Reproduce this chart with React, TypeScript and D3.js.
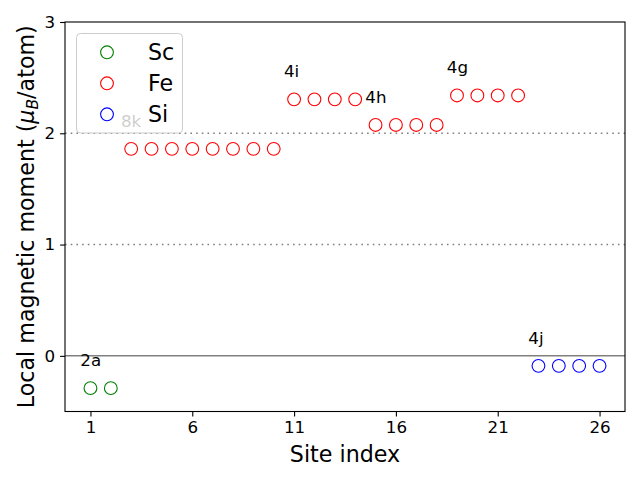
import React, { useEffect, useRef } from 'react'
import * as d3 from 'd3'

const scSites = [1, 2]
const scValues = [-0.29, -0.29]
const feSites = [3, 4, 5, 6, 7, 8, 9, 10, 11, 12, 13, 14, 15, 16, 17, 18, 19, 20, 21, 22]
const feValues = [1.86, 1.86, 1.86, 1.86, 1.86, 1.86, 1.86, 1.86,
  2.305, 2.305, 2.305, 2.305, 2.075, 2.075, 2.075, 2.075, 2.34, 2.34, 2.34, 2.34]
const siSites = [23, 24, 25, 26]
const siValues = [-0.09, -0.09, -0.09, -0.09]

const labels = ['2a', '8k', '4i', '4h', '4g', '4j']
const labelSites = [1, 3, 11, 15, 19, 23]
const labelValues = [-0.29, 1.86, 2.305, 2.075, 2.34, -0.09]

const xTicks = [1, 6, 11, 16, 21, 26]
const yTicks = [0, 1, 2, 3]

function drawChart(el: SVGSVGElement) {
  const svg = d3.select(el)
  svg.selectAll('*').remove()
  const left = 65, right = 625, top = 22, bottom = 411.5
  const x = d3.scaleLinear().domain([-0.25, 27.25]).range([left, right])
  const y = d3.scaleLinear().domain([-0.5, 3]).range([bottom, top])
  const font = 'DejaVu Sans, sans-serif'

  svg.append('rect').attr('width', 640).attr('height', 480).attr('fill', 'white')

  // reference lines
  svg.append('line').attr('x1', left).attr('x2', right).attr('y1', y(0)).attr('y2', y(0))
    .attr('stroke', 'gray').attr('stroke-width', 1.5)
  ;[1, 2].forEach(v => {
    svg.append('line').attr('x1', left).attr('x2', right).attr('y1', y(v)).attr('y2', y(v))
      .attr('stroke', 'gray').attr('stroke-width', 1.6).attr('stroke-dasharray', '1.6,4.1')
  })

  const series = [
    { sites: scSites, values: scValues, color: 'green', name: 'Sc' },
    { sites: feSites, values: feValues, color: 'red', name: 'Fe' },
    { sites: siSites, values: siValues, color: 'blue', name: 'Si' },
  ]
  series.forEach(s => {
    svg.append('g').selectAll('circle').data(s.sites).enter().append('circle')
      .attr('cx', d => x(d))
      .attr('cy', (d, i) => y(s.values[i]))
      .attr('r', 6.4)
      .attr('fill', 'none')
      .attr('stroke', s.color)
      .attr('stroke-width', 1.1)
  })

  labels.forEach((t, i) => {
    svg.append('text').attr('x', x(labelSites[i] - 0.5)).attr('y', y(labelValues[i] + 0.2))
      .attr('font-family', font).attr('font-size', 16.7).text(t)
  })

  // axes
  const xAxis = svg.append('g').attr('transform', `translate(0,${bottom})`)
    .call(d3.axisBottom(x).tickValues(xTicks).tickSize(4.9).tickPadding(4.9).tickFormat(d3.format('d')))
  const yAxis = svg.append('g').attr('transform', `translate(${left},0)`)
    .call(d3.axisLeft(y).tickValues(yTicks).tickSize(4.9).tickPadding(4.9).tickFormat(d3.format('d')))
  ;[xAxis, yAxis].forEach(a => {
    a.select('.domain').remove()
    a.selectAll('line').attr('stroke', 'black').attr('stroke-width', 1.1)
    a.selectAll('text').attr('font-family', font).attr('font-size', 16.7).attr('fill', 'black')
  })
  svg.append('rect').attr('x', left).attr('y', top).attr('width', right - left).attr('height', bottom - top)
    .attr('fill', 'none').attr('stroke', 'black').attr('stroke-width', 1.1)

  svg.append('text').attr('x', (left + right) / 2).attr('y', 462).attr('text-anchor', 'middle')
    .attr('font-family', font).attr('font-size', 22.2).text('Site index')

  const yl = svg.append('text').attr('transform', `translate(34,${(top + bottom) / 2}) rotate(-90)`)
    .attr('text-anchor', 'middle').attr('font-family', font).attr('font-size', 22.2)
  yl.append('tspan').text('Local magnetic moment (')
  yl.append('tspan').attr('font-style', 'italic').text('μ')
  yl.append('tspan').attr('font-style', 'italic').attr('font-size', 15.5).attr('dy', 4).text('B')
  yl.append('tspan').attr('dy', -4).text('/atom)')

  // legend
  const lg = svg.append('g')
  lg.append('rect').attr('x', 76.5).attr('y', 33.5).attr('width', 106).attr('height', 99.5)
    .attr('rx', 4).attr('fill', 'white').attr('fill-opacity', 0.8)
    .attr('stroke', '#cccccc').attr('stroke-width', 1)
  series.forEach((s, i) => {
    const cy = 52.3 + i * 31
    lg.append('circle').attr('cx', 107).attr('cy', cy).attr('r', 6.4)
      .attr('fill', 'none').attr('stroke', s.color).attr('stroke-width', 1.1)
    lg.append('text').attr('x', 148).attr('y', cy + 8).attr('font-family', font)
      .attr('font-size', 22.2).text(s.name)
  })
}

const App = () => {
  const ref = useRef<SVGSVGElement>(null)
  useEffect(() => {
    if (ref.current) drawChart(ref.current)
  })
  return (
    <svg ref={ref} width={640} height={480}
      style={{ position: 'absolute', left: 0, top: 0 }} />
  )
}

export default App
